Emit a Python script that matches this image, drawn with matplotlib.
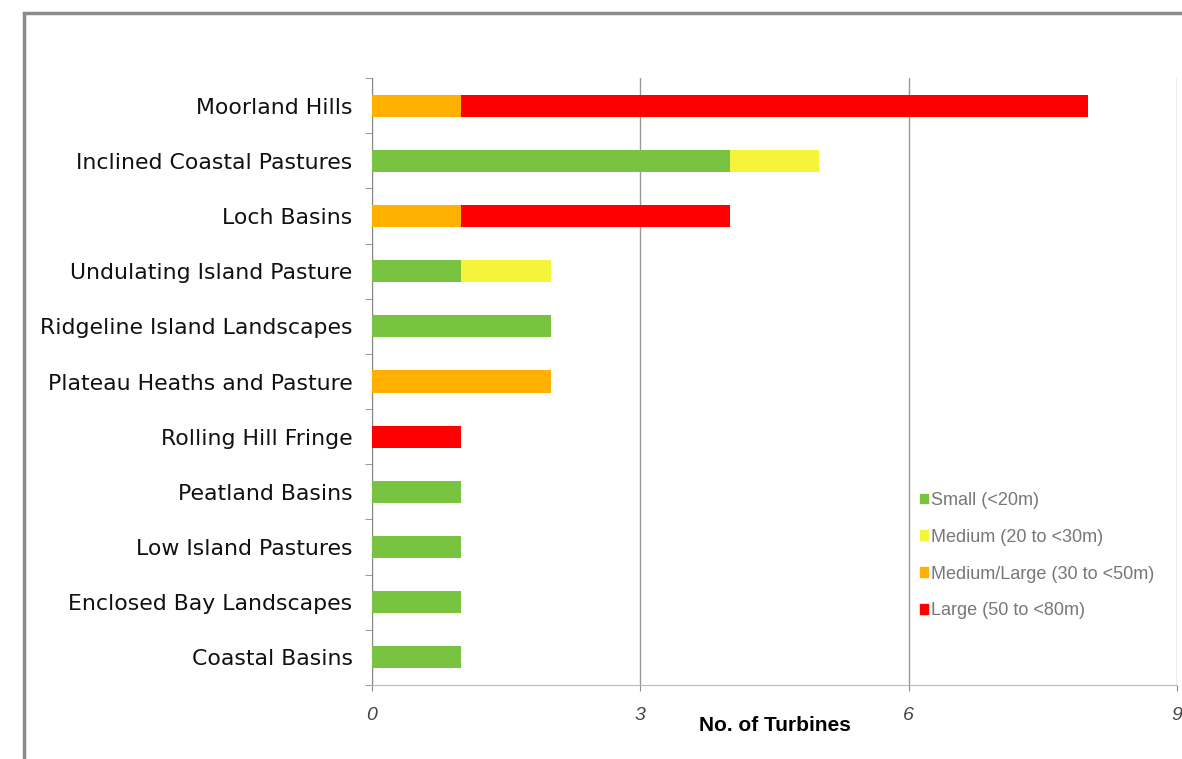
import matplotlib.pyplot as plt
import matplotlib.patches as mpatches
import numpy as np

# Data (top-to-bottom order as in the chart)
areas = ['Moorland Hills', 'Inclined Coastal Pastures', 'Loch Basins',
         'Undulating Island Pasture', 'Ridgeline Island Landscapes',
         'Plateau Heaths and Pasture', 'Rolling Hill Fringe', 'Peatland Basins',
         'Low Island Pastures', 'Enclosed Bay Landscapes', 'Coastal Basins']
small = [0, 4, 0, 1, 2, 0, 0, 1, 1, 1, 1]
medium = [0, 1, 0, 1, 0, 0, 0, 0, 0, 0, 0]
medium_large = [1, 0, 1, 0, 0, 2, 0, 0, 0, 0, 0]
large = [7, 0, 3, 0, 0, 0, 1, 0, 0, 0, 0]

series_labels = ['Small (<20m)', 'Medium (20 to <30m)',
                 'Medium/Large (30 to <50m)', 'Large (50 to <80m)']
colors = ['#78c440', '#f4f43a', '#ffb000', '#ff0000']
xticks = [0, 3, 6, 9]

plt.rcParams['font.family'] = ['DejaVu Sans']

fig = plt.figure(figsize=(11.82, 7.59), dpi=100)
ax = fig.add_axes([372 / 1182, 1 - 685 / 759, (1177 - 372) / 1182, (685 - 78) / 759])

y = np.arange(len(areas))[::-1]
left = np.zeros(len(areas))
bar_h = 0.4
for vals, col, lab in zip([small, medium, medium_large, large], colors, series_labels):
    vals = np.array(vals, dtype=float)
    ax.barh(y, vals, left=left, height=bar_h, color=col, label=lab, zorder=3)
    left += vals

ax.set_xlim(0, 9)
ax.set_ylim(-0.5, len(areas) - 0.5)
ax.set_xticks(xticks)
ax.set_xticklabels([str(t) for t in xticks], fontsize=14, style='italic', color='#444444',
                   family=['Liberation Sans Narrow', 'Liberation Sans'])
ax.tick_params(axis='x', length=4, color='#888888', pad=12)
ax.set_yticks(y)
ax.set_yticklabels(areas, fontsize=15.8, color='#111111', fontweight='medium')
ax.tick_params(axis='y', length=0, pad=14)
ax.set_yticks(np.arange(len(areas) + 1) - 0.5, minor=True)
ax.tick_params(axis='y', which='minor', length=5, color='#888888')

ax.grid(axis='x', color='#999999', linewidth=1, zorder=0)
for s in ['top', 'right']:
    ax.spines[s].set_visible(False)
ax.spines['left'].set_color('#888888')
ax.spines['bottom'].set_color('#bbbbbb')

ax.set_xlabel('No. of Turbines', fontsize=15, fontweight='bold',
              family=['Liberation Sans Narrow', 'Liberation Sans'], labelpad=-6)

handles = [mpatches.Patch(color=c, label=l) for c, l in zip(colors, series_labels)]
leg = ax.legend(handles=handles, loc='upper left', bbox_to_anchor=(0.66, 0.345),
                frameon=False, handlelength=0.45, handleheight=0.45,
                handletextpad=0.2, labelspacing=1.1,
                prop={'family': ['Liberation Sans Narrow', 'Liberation Sans'], 'size': 13})
for t in leg.get_texts():
    t.set_color('#777777')

# outer frame of the exported chart
fig.patches.append(mpatches.Rectangle((24 / 1182, -0.01), 1.0, 1 - 13 / 759 + 0.01,
                                      transform=fig.transFigure, fill=False,
                                      edgecolor='#8c8c8c', linewidth=2.5))

fig.savefig('out.png', dpi=100)
